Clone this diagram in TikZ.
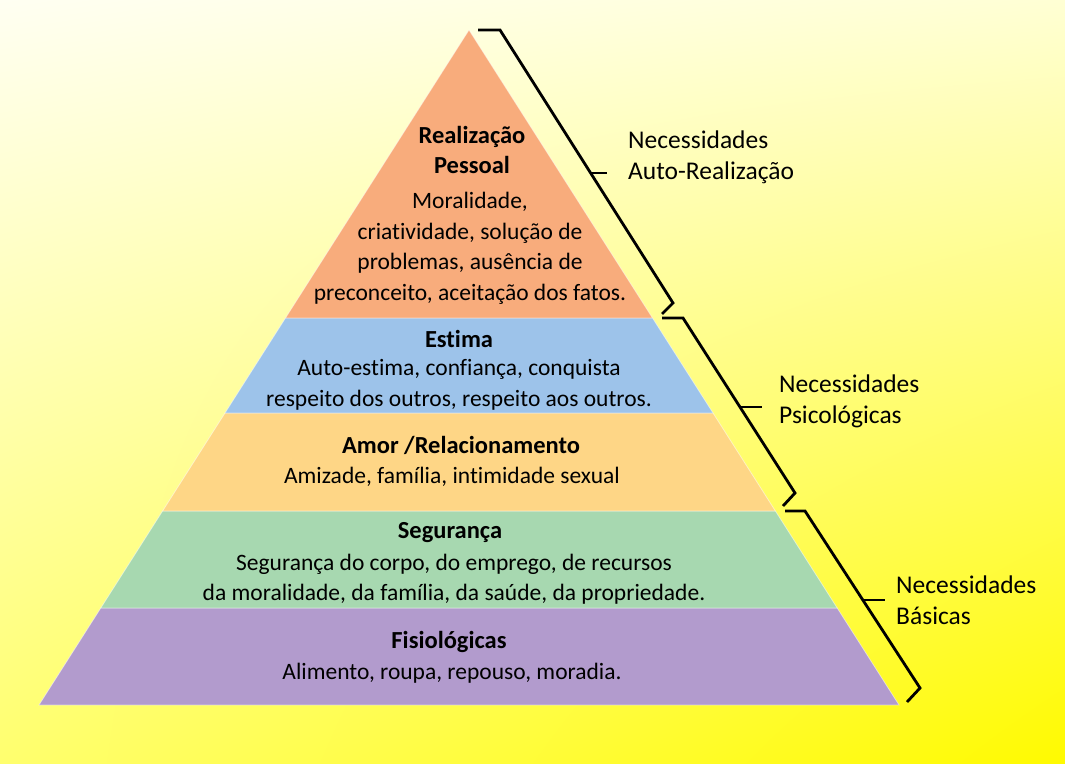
\documentclass[tikz,border=0pt]{standalone}
\usepackage{fontspec}
\setmainfont{Carlito}[Ligatures=NoCommon]
\usetikzlibrary{shadings}
\definecolor{bgUL}{RGB}{255,255,242}
\definecolor{bgUR}{RGB}{255,255,212}
\definecolor{bgLL}{RGB}{255,255,110}
\definecolor{bgLR}{RGB}{255,250,0}
\definecolor{lyOrange}{RGB}{248,172,124}
\definecolor{lyBlue}{RGB}{157,195,234}
\definecolor{lyPeach}{RGB}{254,214,134}
\definecolor{lyGreen}{RGB}{167,216,176}
\definecolor{lyPurple}{RGB}{178,155,205}
\tikzset{
  layer/.style={draw=white, draw opacity=0.5, line width=0.8pt},
  ttl/.style={font=\fontsize{24.5}{30.5}\selectfont\bfseries, align=center, inner sep=0pt},
  txt/.style={font=\fontsize{23.5}{30.5}\selectfont, align=center, inner sep=0pt},
  side/.style={font=\fontsize{25.5}{31}\selectfont, align=left, anchor=west, inner sep=0pt},
  brace/.style={draw=black, line width=2.8pt, line join=miter}
}
\begin{document}
\begin{tikzpicture}[x=1pt,y=-1pt]
\useasboundingbox (0,0) rectangle (1065,763);
\shade[upper left=bgUL, upper right=bgUR, lower left=bgLL, lower right=bgLR] (0,0) rectangle (1065,763);
% layers
\path[layer, fill=lyPurple] (100.8,608) -- (837.2,608) -- (899,705) -- (39,705) -- cycle;
\path[layer, fill=lyGreen] (162.6,511) -- (775.4,511) -- (837.2,608) -- (100.8,608) -- cycle;
\path[layer, fill=lyPeach] (225,413) -- (713,413) -- (775.4,511) -- (162.6,511) -- cycle;
\path[layer, fill=lyBlue] (285.5,318) -- (652.5,318) -- (713,413) -- (225,413) -- cycle;
\path[layer, fill=lyOrange] (469,30) -- (652.5,318) -- (285.5,318) -- cycle;
% texts
\node[ttl] (t1) at (472,150) {Realização\\Pessoal};
\node[txt] (d1) at (470,248.5) {Moralidade,\\criatividade, solução de\\problemas, ausência de\\preconceito, aceitação dos fatos.};
\node[ttl] (t2) at (459,339) {Estima};
\node[txt] (d2) at (459,385) {Auto-estima, confiança, conquista\\respeito dos outros, respeito aos outros.};
\node[ttl] (t3) at (461,445) {Amor /Relacionamento};
\node[txt] (d3) at (452,477) {Amizade, família, intimidade sexual};
\node[ttl] (t4) at (450,533) {Segurança};
\node[txt] (d4) at (454,579) {Segurança do corpo, do emprego, de recursos\\da moralidade, da família, da saúde, da propriedade.};
\node[ttl] (t5) at (449,642) {Fisiológicas};
\node[txt] (d5) at (452,673) {Alimento, roupa, repouso, moradia.};
% side labels
\node[side] (s1) at (628,157.5) {Necessidades\\Auto-Realização};
\node[side] (s2) at (779,401.5) {Necessidades\\Psicológicas};
\node[side] (s3) at (896,600.5) {Necessidades\\Básicas};
% braces
\path[brace] (478,30) -- (500,30) -- (673,303) -- (662,314);
\path[brace] (590.5,173) -- (607,173);
\path[brace] (662,318) -- (683,318) -- (795,493) -- (783,506);
\path[brace] (740,407) -- (762,407);
\path[brace] (785,511) -- (805,511) -- (920,688) -- (907,702);
\path[brace] (863,600) -- (885,600);
\end{tikzpicture}
\end{document}
